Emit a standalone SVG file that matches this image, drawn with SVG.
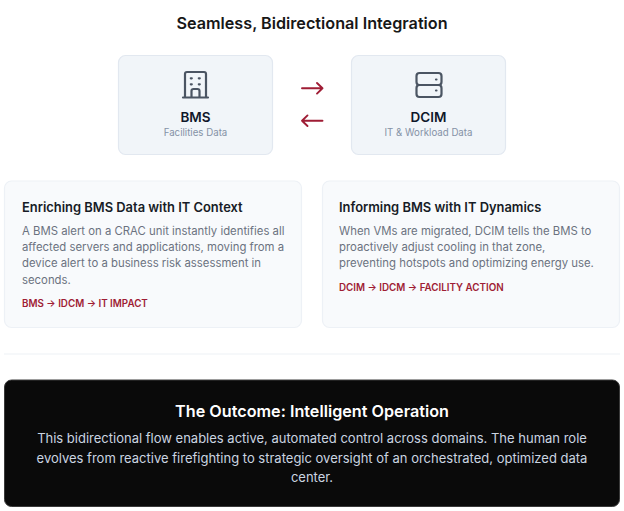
<svg xmlns="http://www.w3.org/2000/svg" width="624" height="511" viewBox="0 0 624 511">
<style>
text{font-family:Inter,"Liberation Sans",sans-serif}
.c{text-anchor:middle}
.node{fill:#f1f5f9;stroke:#e2e8f0;stroke-width:1.2}
.card{fill:#f8fafc;stroke:#edf1f6;stroke-width:1.2}
.nt{font-size:13.500px;font-weight:600;fill:#0f172a}
.ns{font-size:9.700px;fill:#8592a6}
.h{font-size:12.900px;font-weight:600;fill:#171c26}
.b{font-size:11.350px;fill:#6b7280}
.f{font-size:9.800px;font-weight:600;fill:#9f1d35}
.ic{fill:none;stroke:#4b5563;stroke-width:2.200;stroke-linecap:round;stroke-linejoin:round}
.ar{fill:none;stroke:#9f1d35;stroke-width:1.900;stroke-linecap:round;stroke-linejoin:round}
.o{font-size:13px;fill:#cbd5e1}
</style>
<rect width="624" height="511" fill="#fff"/>
<text class="c" x="312" y="29" font-size="16.200" font-weight="600" fill="#171717">Seamless, Bidirectional Integration</text>
<g id="bms">
<rect class="node" x="118.500" y="55.500" width="154" height="99" rx="7"/>
<path class="ic" d="M187 72h17a2 2 0 0 1 2 2v23.500h-21v-23.500a2 2 0 0 1 2-2zM183 97.500h25M191.500 97.500v-6.500a2 2 0 0 1 2-2h4a2 2 0 0 1 2 2v6.500"/>
<path class="ic" d="M190.800 78.300h1M198.800 78.300h1M190.800 84.300h1M198.800 84.300h1"/>
<text class="c nt" x="195.500" y="122">BMS</text>
<text class="c ns" x="195.500" y="136">Facilities Data</text>
</g>
<g id="dcim">
<rect class="node" x="351.500" y="55.500" width="154" height="99" rx="7"/>
<rect class="ic" x="416.500" y="73" width="25" height="12" rx="3"/>
<rect class="ic" x="416.500" y="85" width="25" height="12" rx="3"/>
<path class="ic" d="M436 79.500h.5M436 90.500h.5"/>
<text class="c nt" x="428.500" y="122">DCIM</text>
<text class="c ns" x="428.500" y="136">IT &amp; Workload Data</text>
</g>
<g id="connectors">
<path class="ar" d="M302 88.300h20.500M317 83l5.500 5.300-5.500 5.300"/>
<path class="ar" d="M322.500 120.700h-20.500M307.500 115.400l-5.500 5.300 5.500 5.300"/>
</g>
<g id="card-left">
<rect class="card" x="4.500" y="181" width="297" height="146.500" rx="7"/>
<text class="h" x="22" y="212">Enriching BMS Data with IT Context</text>
<text class="b" x="22" y="235">A BMS alert on a CRAC unit instantly identifies all</text>
<text class="b" x="22" y="251">affected servers and applications, moving from a</text>
<text class="b" x="22" y="267">device alert to a business risk assessment in</text>
<text class="b" x="22" y="284">seconds.</text>
<text class="f" x="22" y="307">BMS → IDCM → IT IMPACT</text>
</g>
<g id="card-right">
<rect class="card" x="322.500" y="181" width="297" height="146.500" rx="7"/>
<text class="h" x="339" y="212">Informing BMS with IT Dynamics</text>
<text class="b" x="339" y="235">When VMs are migrated, DCIM tells the BMS to</text>
<text class="b" x="339" y="251">proactively adjust cooling in that zone,</text>
<text class="b" x="339" y="267">preventing hotspots and optimizing energy use.</text>
<text class="f" x="339" y="291">DCIM → IDCM → FACILITY ACTION</text>
</g>
<path d="M4 354H620" stroke="#eef1f5" stroke-width="1.2"/>
<g id="outcome">
<rect x="4.500" y="380" width="615" height="126.500" rx="7" fill="#0a0a0a" stroke="#3a3a3a" stroke-width="1"/>
<text class="c" x="312" y="417" font-size="16.200" font-weight="600" fill="#fff">The Outcome: Intelligent Operation</text>
<text class="c o" x="312" y="443">This bidirectional flow enables active, automated control across domains. The human role</text>
<text class="c o" x="312" y="463">evolves from reactive firefighting to strategic oversight of an orchestrated, optimized data</text>
<text class="c o" x="312" y="482">center.</text>
</g>
</svg>
